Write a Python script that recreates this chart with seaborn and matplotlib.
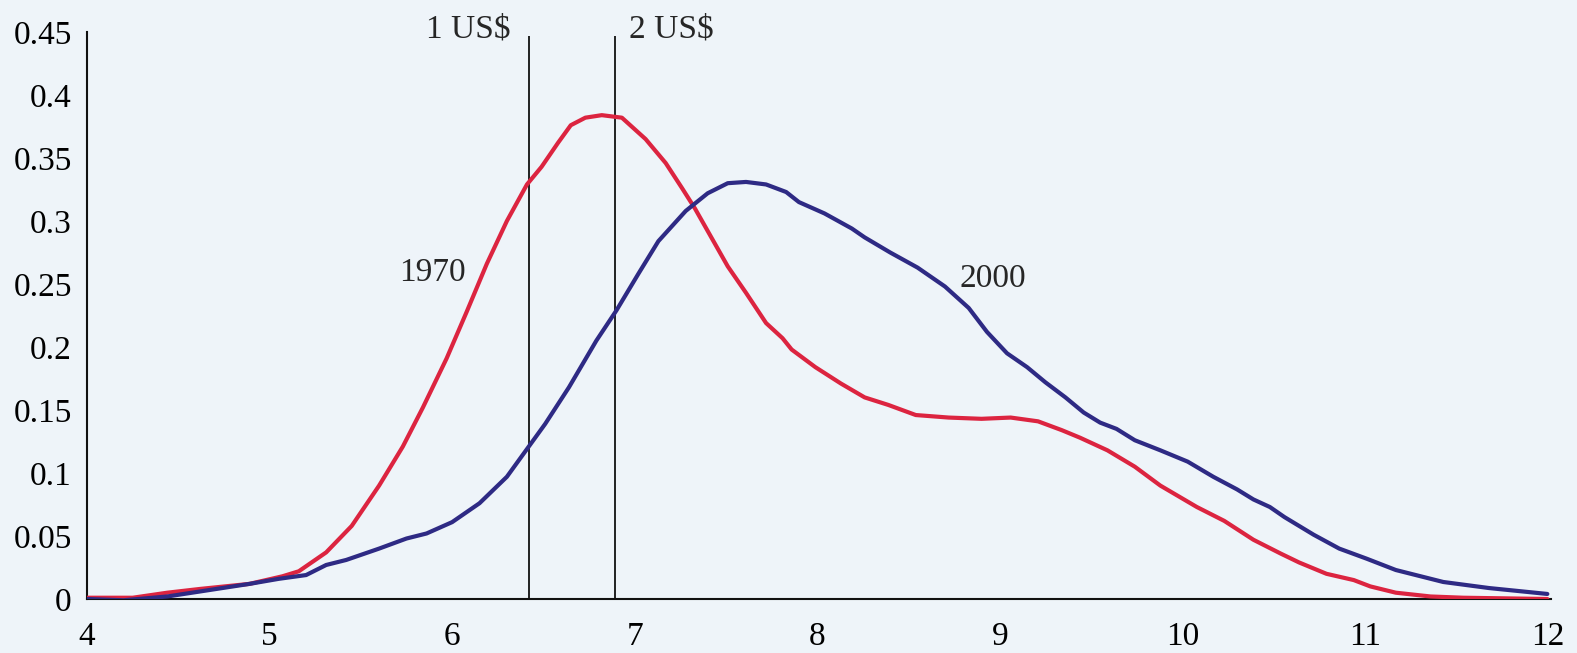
import matplotlib
matplotlib.use("Agg")
import matplotlib.pyplot as plt
import numpy as np
import seaborn as sns
import pandas as pd

# log income grid and densities
x_1970 = [4.0, 4.25, 4.44, 4.62, 4.89, 5.07, 5.16, 5.31, 5.45, 5.60, 5.73, 5.84, 5.97, 6.08,
          6.19, 6.30, 6.41, 6.49, 6.58, 6.65, 6.73, 6.82, 6.93, 7.06, 7.17, 7.26, 7.33, 7.42,
          7.51, 7.61, 7.72, 7.81, 7.86, 7.99, 8.13, 8.26, 8.39, 8.54, 8.72, 8.90, 9.06, 9.21,
          9.34, 9.44, 9.59, 9.74, 9.88, 10.08, 10.23, 10.39, 10.54, 10.64, 10.79, 10.94, 11.03,
          11.17, 11.36, 11.54, 12.0]
y_1970 = [0.001, 0.001, 0.005, 0.008, 0.012, 0.018, 0.022, 0.037, 0.058, 0.090, 0.121, 0.152,
          0.191, 0.228, 0.266, 0.300, 0.329, 0.343, 0.362, 0.376, 0.382, 0.384, 0.382, 0.365,
          0.346, 0.326, 0.310, 0.287, 0.264, 0.243, 0.219, 0.207, 0.198, 0.184, 0.171, 0.160,
          0.154, 0.146, 0.144, 0.143, 0.144, 0.141, 0.134, 0.128, 0.118, 0.105, 0.090, 0.073,
          0.062, 0.047, 0.036, 0.029, 0.020, 0.015, 0.010, 0.005, 0.002, 0.001, 0.0]

x_2000 = [4.0, 4.2, 4.44, 4.62, 4.89, 5.05, 5.20, 5.31, 5.42, 5.60, 5.75, 5.86, 6.00, 6.15,
          6.30, 6.42, 6.51, 6.64, 6.79, 6.90, 7.02, 7.13, 7.28, 7.40, 7.51, 7.61, 7.72, 7.83,
          7.90, 8.04, 8.19, 8.26, 8.40, 8.55, 8.70, 8.83, 8.93, 9.04, 9.15, 9.25, 9.36, 9.46,
          9.55, 9.64, 9.74, 9.88, 10.03, 10.17, 10.30, 10.39, 10.48, 10.56, 10.72, 10.86,
          11.01, 11.17, 11.43, 11.68, 11.83, 12.0]
y_2000 = [0.0, -0.001, 0.002, 0.006, 0.012, 0.016, 0.019, 0.027, 0.031, 0.040, 0.048, 0.052,
          0.061, 0.076, 0.097, 0.121, 0.139, 0.168, 0.205, 0.229, 0.258, 0.284, 0.308, 0.322,
          0.330, 0.331, 0.329, 0.323, 0.315, 0.306, 0.294, 0.287, 0.275, 0.263, 0.248, 0.231,
          0.212, 0.195, 0.184, 0.172, 0.160, 0.148, 0.140, 0.135, 0.126, 0.118, 0.109, 0.097,
          0.087, 0.079, 0.073, 0.065, 0.051, 0.040, 0.032, 0.023, 0.0135, 0.0087, 0.0065, 0.004]

poverty_lines = [6.42, 6.89]
poverty_labels = ["1 US$", "2 US$"]
x_ticks = [4, 5, 6, 7, 8, 9, 10, 11, 12]
y_ticks = [0, 0.05, 0.1, 0.15, 0.2, 0.25, 0.3, 0.35, 0.4, 0.45]
y_tick_labels = ["0", "0.05", "0.1", "0.15", "0.2", "0.25", "0.3", "0.35", "0.4", "0.45"]

df = pd.concat([
    pd.DataFrame({"x": x_1970, "y": y_1970, "year": "1970"}),
    pd.DataFrame({"x": x_2000, "y": y_2000, "year": "2000"}),
])

bg = "#eef4f9"
sns.set_style("white")
plt.rcParams["font.family"] = ["Liberation Serif", "DejaVu Serif"]

fig = plt.figure(figsize=(15.77, 6.53), dpi=100, facecolor=bg)
ax = fig.add_axes([0.0552, 0.0827, 0.9283, 0.8683])
ax.set_facecolor(bg)

sns.lineplot(data=df, x="x", y="y", hue="year", palette={"1970": "#dc2440", "2000": "#2e2a84"},
             linewidth=3.0, sort=False, legend=False, ax=ax, zorder=3)

ax.vlines(poverty_lines, 0, 0.447, color="#111111", linewidth=1.3, zorder=2)
ax.text(poverty_lines[0] - 0.1, 0.452, poverty_labels[0], ha="right", va="center", fontsize=24)
ax.text(poverty_lines[1] + 0.08, 0.452, poverty_labels[1], ha="left", va="center", fontsize=24)
ax.text(5.89, 0.259, "1970", ha="center", va="center", fontsize=24)
ax.text(8.96, 0.254, "2000", ha="center", va="center", fontsize=24)

ax.set_xlim(4, 12.02)
ax.set_ylim(0, 0.45)
ax.set_xticks(x_ticks)
ax.set_xticklabels([str(t) for t in x_ticks])
ax.set_yticks(y_ticks)
ax.set_yticklabels(y_tick_labels)
ax.tick_params(axis="both", length=0, labelsize=24, colors="#000000")
ax.tick_params(axis="x", pad=16)
ax.tick_params(axis="y", pad=11)
ax.set_xlabel("")
ax.set_ylabel("")

for side in ["top", "right"]:
    ax.spines[side].set_visible(False)
for side in ["left", "bottom"]:
    ax.spines[side].set_color("#111111")
    ax.spines[side].set_linewidth(1.5)

fig.savefig("out.png", dpi=100, facecolor=bg)
